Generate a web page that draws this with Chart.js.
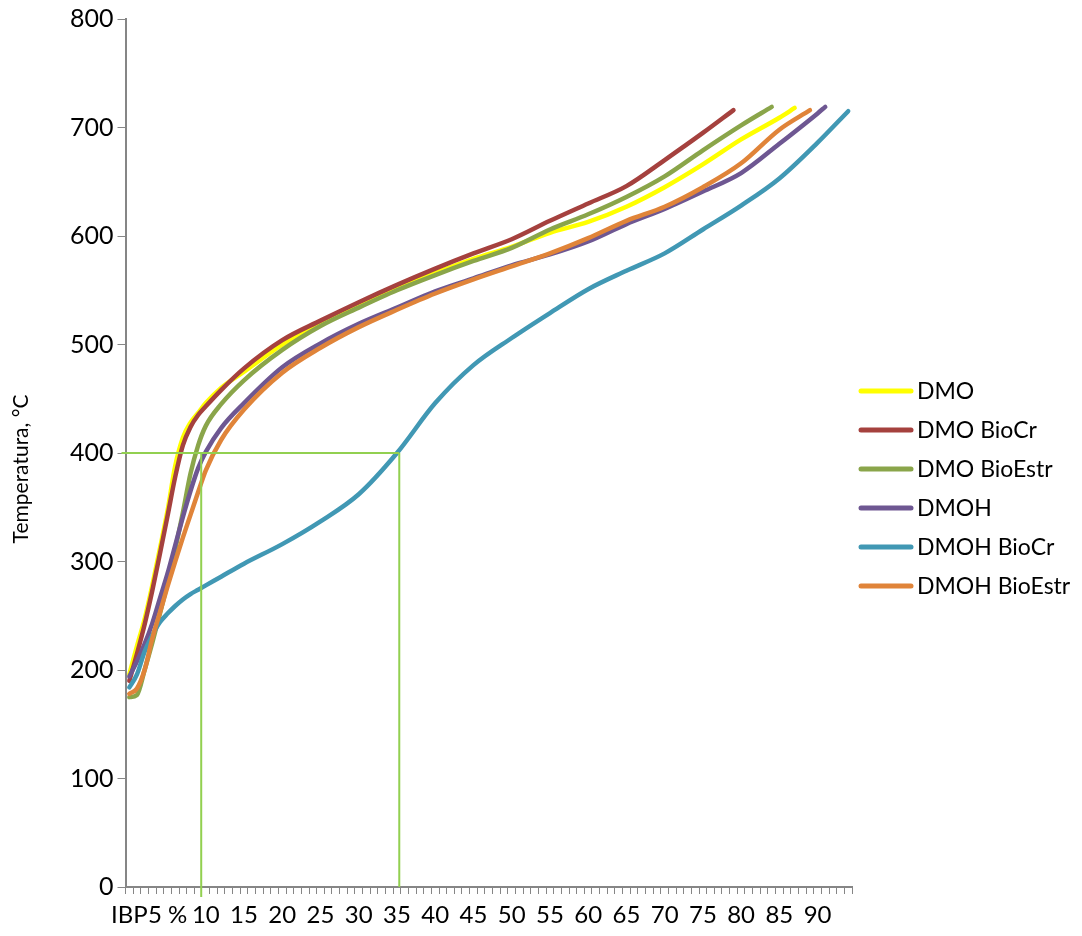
<!DOCTYPE html>
<html>
<head>
<meta charset="utf-8">
<script src="https://cdn.jsdelivr.net/npm/chart.js@4.4.1/dist/chart.umd.min.js"></script>
<style>
  body { margin: 0; background: #fff; }
  #wrap { width: 1082px; height: 936px; }
</style>
</head>
<body>
<div id="wrap"><canvas id="myChart"></canvas></div>
<script>
// % recovered, read at these steps
const pct = [0, 1, 2, 3, 4, 5, 6, 7, 8, 9, 10, 12, 15, 20, 25, 30, 35, 40, 45, 50, 55, 60, 65, 70, 75, 80, 85, 90];

const seriesNames = ['DMO', 'DMO BioCr', 'DMO BioEstr', 'DMOH', 'DMOH BioCr', 'DMOH BioEstr'];
const seriesColors = ['#FFFF00', '#A5413E', '#8AA54A', '#6E5792', '#4198B4', '#E08439'];

const dmo         = [196, 222, 247, 278, 312, 347, 388, 414, 428, 437, 446, 460, 475, 500, 519, 536, 552, 566, 579, 590, 603, 613, 627, 645, 666, 689, 709, null];
const dmoBioCr    = [190, 215, 242, 273, 307, 342, 378, 407, 424, 435, 443, 458, 478, 504, 522, 539, 555, 570, 584, 597, 614, 630, 646, 670, 695, null, null, null];
const dmoBioEstr  = [175, 177, 200, 225, 252, 280, 311, 345, 381, 407, 425, 445, 467, 495, 517, 534, 550, 564, 577, 589, 606, 620, 636, 655, 679, 702, null, null];
const dmoh        = [194, 208, 224, 243, 266, 289, 315, 341, 365, 386, 401, 423, 446, 479, 501, 519, 534, 549, 561, 573, 583, 595, 611, 625, 641, 658, 685, 713];
const dmohBioCr   = [184, 196, 217, 232, 244, 252, 259, 265, 270, 274, 278, 286, 298, 316, 337, 362, 400, 446, 481, 506, 529, 551, 568, 584, 606, 628, 653, 686];
const dmohBioEstr = [178, 183, 200, 229, 253, 277, 300, 322, 343, 364, 384, 412, 440, 474, 497, 516, 532, 547, 560, 572, 584, 598, 614, 627, 645, 667, 698, null];

// last point of every curve (final boiling point)
const endPct  = [87, 79, 84, 91, 94, 89];
const endTemp = [718, 716, 719, 719, 715, 716];

const allValues = [dmo, dmoBioCr, dmoBioEstr, dmoh, dmohBioCr, dmohBioEstr];

// x axis: one category per %, labels every 5
const nCats = 95;
const categories = Array.from({length: nCats}, (_, i) => String(i));
const tickLabels = ['IBP', '5 %', '10', '15', '20', '25', '30', '35', '40', '45', '50', '55', '60', '65', '70', '75', '80', '85', '90'];

// green guide lines
const guideTemp = 400;
const guidePct = [9.4, 35.3];

const yTitle = 'Temperatura, °C';

function buildData(vals, last, lastT) {
  const d = new Array(nCats).fill(null);
  pct.forEach((p, i) => { if (vals[i] !== null) d[p] = vals[i]; });
  d[last] = lastT;
  return d;
}

const guides = {
  id: 'guides',
  afterDatasetsDraw(chart) {
    const x = chart.scales.x, y = chart.scales.y;
    const c = chart.ctx;
    const yy = y.getPixelForValue(guideTemp);
    const x1 = x.getPixelForValue(guidePct[0]);
    const x2 = x.getPixelForValue(guidePct[1]);
    const bottom = chart.chartArea.bottom;
    c.save();
    c.strokeStyle = '#92D050';
    c.lineWidth = 2;
    c.beginPath();
    c.moveTo(chart.chartArea.left - 4, yy);
    c.lineTo(x2, yy);
    c.moveTo(x1, yy);
    c.lineTo(x1, bottom + 10);
    c.moveTo(x2, yy);
    c.lineTo(x2, bottom);
    c.stroke();
    c.restore();
  }
};

// legend + y title drawn by hand, positions like the excel original
const sideText = {
  id: 'sideText',
  afterDraw(chart) {
    const c = chart.ctx;
    const area = chart.chartArea;
    c.save();
    c.font = '23px Lato';
    c.textBaseline = 'middle';
    c.textAlign = 'left';
    seriesNames.forEach((name, i) => {
      const yy = 391 + i * 39;
      c.strokeStyle = seriesColors[i];
      c.lineWidth = 5;
      c.lineCap = 'round';
      c.beginPath();
      c.moveTo(area.right + 9, yy);
      c.lineTo(area.right + 59, yy);
      c.stroke();
      c.fillStyle = '#000';
      c.fillText(name, area.right + 65, yy + 1);
    });
    c.font = '21px Lato';
    c.translate(21, 469);
    c.rotate(-Math.PI / 2);
    c.textAlign = 'center';
    c.fillText(yTitle, 0, 0);
    c.restore();
  }
};

Chart.defaults.font.family = 'Lato';
Chart.defaults.color = '#000';

const ctx = document.getElementById('myChart');

new Chart(ctx, {
  type: 'line',
  data: {
    labels: categories,
    datasets: seriesNames.map((name, i) => ({
      label: name,
      data: buildData(allValues[i], endPct[i], endTemp[i]),
      borderColor: seriesColors[i],
      backgroundColor: seriesColors[i],
      borderWidth: 4.5,
      borderCapStyle: 'round',
      pointRadius: 0,
      spanGaps: true,
      cubicInterpolationMode: 'monotone',
      order: seriesNames.length - i
    }))
  },
  options: {
    responsive: true,
    maintainAspectRatio: false,
    animation: false,
    layout: {
      padding: {top: 4, left: 66, right: 230, bottom: 0}
    },
    plugins: {
      tooltip: {enabled: false},
      legend: {display: false}
    },
    scales: {
      x: {
        offset: true,
        border: {color: '#868686', width: 2},
        grid: {drawOnChartArea: false, drawTicks: true, tickLength: 7, color: '#868686', offset: true},
        ticks: {
          autoSkip: false,
          maxRotation: 0,
          padding: 9,
          font: {size: 24, lineHeight: 1},
          callback: (v, i) => (i % 5 === 0 ? tickLabels[i / 5] : '')
        }
      },
      y: {
        min: 0,
        max: 800,
        border: {color: '#868686', width: 2},
        grid: {drawOnChartArea: false, drawTicks: true, tickLength: 8, color: '#868686'},
        ticks: {stepSize: 100, padding: 4, font: {size: 25}}
      }
    }
  },
  plugins: [guides, sideText]
});
</script>
</body>
</html>
